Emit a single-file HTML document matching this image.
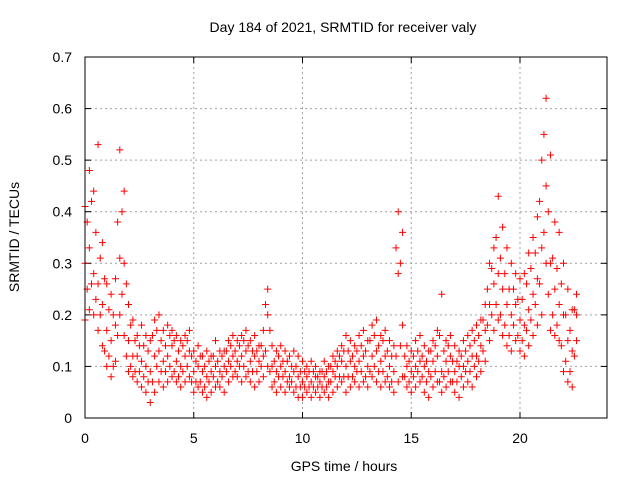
<!DOCTYPE html>
<html><head><meta charset="utf-8"><style>
body{margin:0;background:#fff}
svg text{font-family:"Liberation Sans",sans-serif;font-size:14px;fill:#000}
</style></head><body>
<svg id="chart" width="640" height="480" viewBox="0 0 640 480">
<rect width="640" height="480" fill="#fff"/>
<text x="343" y="32" text-anchor="middle">Day 184 of 2021, SRMTID for receiver valy</text>
<g id="grid"></g>
<g id="axes"></g>
<g id="points"></g>
<rect x="85" y="57" width="522" height="361" fill="none" stroke="#000" stroke-width="1"/>
<text x="344" y="471" text-anchor="middle">GPS time / hours</text>
<text x="19" y="237" text-anchor="middle" transform="rotate(-90 19 237)">SRMTID / TECUs</text>
</svg>
<script>
const xTicks=[0,5,10,15,20];
const yTicks=[0,0.1,0.2,0.3,0.4,0.5,0.6,0.7];
const yTickLabels=["0","0.1","0.2","0.3","0.4","0.5","0.6","0.7"];
const times=[0,0.2,0.4,0.6,0.8,1.0,1.2,1.4,1.6,1.8,2.0,2.2,2.4,2.6,2.8,3.0,3.2,3.4,3.6,3.8,4.0,4.2,4.4,4.6,4.8,5.0,5.2,5.4,5.6,5.8,6.0,6.2,6.4,6.6,6.8,7.0,7.2,7.4,7.6,7.8,8.0,8.2,8.4,8.6,8.8,9.0,9.2,9.4,9.6,9.8,10.0,10.2,10.4,10.6,10.8,11.0,11.2,11.4,11.6,11.8,12.0,12.2,12.4,12.6,12.8,13.0,13.2,13.4,13.6,13.8,14.0,14.2,14.4,14.6,14.8,15.0,15.2,15.4,15.6,15.8,16.0,16.2,16.4,16.6,16.8,17.0,17.2,17.4,17.6,17.8,18.0,18.2,18.4,18.6,18.8,19.0,19.2,19.4,19.6,19.8,20.0,20.2,20.4,20.6,20.8,21.0,21.2,21.4,21.6,21.8,22.0,22.2,22.4,22.6];
const lowVals=[.19,.21,.20,.17,.14,.10,.08,.11,.20,.16,.09,.08,.07,.06,.05,.03,.05,.07,.06,.07,.08,.07,.06,.07,.08,.05,.06,.05,.04,.05,.06,.06,.05,.07,.08,.08,.07,.08,.07,.06,.07,.08,.10,.06,.05,.06,.05,.06,.05,.04,.04,.05,.04,.05,.04,.05,.04,.05,.06,.07,.05,.06,.07,.06,.07,.06,.08,.07,.06,.07,.06,.05,.07,.08,.06,.05,.06,.07,.05,.04,.06,.07,.05,.06,.07,.05,.04,.06,.07,.06,.08,.09,.11,.15,.17,.19,.16,.14,.13,.15,.13,.12,.14,.16,.18,.20,.30,.17,.16,.15,.09,.07,.06,.15];
const midVals=[.30,.33,.28,.26,.22,.17,.15,.18,.31,.30,.15,.12,.12,.11,.10,.09,.12,.13,.11,.12,.14,.11,.10,.12,.13,.09,.10,.09,.08,.09,.10,.09,.10,.11,.12,.11,.12,.13,.11,.12,.11,.12,.20,.10,.09,.10,.09,.08,.09,.08,.07,.08,.07,.08,.07,.08,.07,.09,.10,.11,.10,.11,.10,.11,.12,.10,.12,.13,.11,.12,.10,.09,.28,.18,.10,.09,.10,.11,.10,.09,.11,.12,.09,.11,.12,.09,.10,.10,.11,.12,.12,.14,.17,.22,.26,.28,.25,.22,.20,.22,.19,.18,.21,.24,.27,.33,.45,.30,.25,.22,.20,.15,.13,.20];
const highVals=[.41,.48,.44,.53,.34,.26,.24,.27,.52,.44,.22,.19,.16,.18,.16,.15,.19,.20,.17,.18,.17,.16,.15,.16,.17,.13,.14,.12,.13,.12,.15,.13,.13,.15,.16,.15,.16,.17,.15,.16,.14,.17,.25,.14,.13,.14,.13,.12,.13,.12,.11,.10,.11,.10,.09,.11,.10,.12,.13,.14,.16,.15,.14,.16,.17,.15,.18,.19,.16,.17,.15,.14,.40,.36,.14,.13,.15,.16,.14,.13,.15,.17,.24,.15,.16,.14,.13,.15,.16,.17,.18,.19,.22,.30,.33,.43,.37,.33,.30,.28,.27,.28,.32,.35,.39,.50,.62,.51,.38,.36,.30,.25,.21,.24];
const times2=[0.1,0.3,0.5,0.7,0.9,1.1,1.3,1.5,1.7,1.9,2.1,2.3,2.5,2.7,2.9,3.1,3.3,3.5,3.7,3.9,4.1,4.3,4.5,4.7,4.9,5.1,5.3,5.5,5.7,5.9,6.1,6.3,6.5,6.7,6.9,7.1,7.3,7.5,7.7,7.9,8.1,8.3,8.5,8.7,8.9,9.1,9.3,9.5,9.7,9.9,10.1,10.3,10.5,10.7,10.9,11.1,11.3,11.5,11.7,11.9,12.1,12.3,12.5,12.7,12.9,13.1,13.3,13.5,13.7,13.9,14.1,14.3,14.5,14.7,14.9,15.1,15.3,15.5,15.7,15.9,16.1,16.3,16.5,16.7,16.9,17.1,17.3,17.5,17.7,17.9,18.1,18.3,18.5,18.7,18.9,19.1,19.3,19.5,19.7,19.9,20.1,20.3,20.5,20.7,20.9,21.1,21.3,21.5,21.7,21.9,22.1,22.3,22.5];
const lowMidVals=[.25,.26,.23,.20,.13,.12,.10,.16,.24,.12,.10,.09,.09,.08,.07,.07,.10,.09,.09,.10,.09,.08,.09,.10,.07,.07,.07,.06,.07,.08,.07,.08,.09,.10,.09,.10,.10,.09,.09,.09,.10,.13,.09,.07,.08,.08,.07,.07,.06,.06,.06,.06,.06,.06,.06,.06,.07,.08,.08,.08,.08,.08,.09,.09,.08,.09,.10,.09,.09,.08,.07,.12,.14,.08,.07,.08,.09,.08,.07,.08,.09,.07,.08,.09,.07,.07,.08,.09,.09,.10,.11,.13,.18,.20,.22,.20,.18,.16,.18,.16,.15,.17,.19,.22,.26,.36,.24,.20,.18,.14,.11,.09,.12];
const midHighVals=[.38,.42,.36,.31,.27,.21,.20,.38,.40,.26,.18,.15,.14,.14,.13,.16,.17,.15,.14,.16,.15,.13,.14,.15,.12,.11,.12,.10,.11,.12,.11,.12,.13,.14,.13,.14,.15,.14,.13,.13,.14,.22,.17,.11,.12,.11,.11,.10,.10,.09,.09,.09,.09,.08,.09,.09,.10,.11,.12,.13,.13,.12,.13,.14,.13,.15,.16,.14,.15,.13,.12,.33,.30,.12,.11,.12,.13,.12,.11,.13,.14,.16,.13,.14,.11,.11,.12,.13,.14,.15,.16,.19,.25,.29,.35,.31,.28,.25,.25,.23,.23,.26,.29,.32,.42,.55,.40,.31,.29,.26,.20,.17,.21];
const X0=85,X1=607,Y0=418,Y1=57,XMAX=24,YMAX=0.7;
const xs=v=>X0+(v/XMAX)*(X1-X0);
const ys=v=>Y0-(v/YMAX)*(Y0-Y1);
const NS="http://www.w3.org/2000/svg";
function mk(tag,attrs,parent){const e=document.createElementNS(NS,tag);for(const k in attrs)e.setAttribute(k,attrs[k]);parent.appendChild(e);return e;}
const grid=document.getElementById('grid'),axes=document.getElementById('axes'),pts=document.getElementById('points');
xTicks.forEach(t=>{
  const x=xs(t);
  if(t>0){const g=mk('line',{x1:x,x2:x,y1:Y1,y2:Y0,stroke:'#a0a0a0','stroke-dasharray':'2,3'},grid);
  
  }
  mk('line',{x1:x,x2:x,y1:Y0,y2:Y0-6,stroke:'#000'},axes);
  mk('line',{x1:x,x2:x,y1:Y1,y2:Y1+6,stroke:'#000'},axes);
  const l=mk('text',{x:x,y:443,'text-anchor':'middle'},axes);l.textContent=t;
  
  
});
yTicks.forEach((t,i)=>{
  const y=ys(t);
  if(t>0&&t<YMAX){const g=mk('line',{x1:X0,x2:X1,y1:y,y2:y,stroke:'#a0a0a0','stroke-dasharray':'2,3'},grid);
  
  }
  mk('line',{x1:X0,x2:X0+6,y1:y,y2:y,stroke:'#000'},axes);
  mk('line',{x1:X1,x2:X1-6,y1:y,y2:y,stroke:'#000'},axes);
  const l=mk('text',{x:72,y:y+5,'text-anchor':'end'},axes);l.textContent=yTickLabels[i];
  
  
});
function cross(t,v){
  if(v===undefined||t===undefined)return;
  const x=xs(t),y=ys(v);
  const p=mk('path',{d:`M${x-3.5},${y}h7M${x},${y-3.5}v7`,stroke:'#ff0000','stroke-width':1},pts);
  
  
}
times.forEach((t,i)=>{cross(t,lowVals[i]);cross(t,midVals[i]);cross(t,highVals[i]);});
times2.forEach((t,i)=>{cross(t,lowMidVals[i]);cross(t,midHighVals[i]);});
</script>
</body></html>
